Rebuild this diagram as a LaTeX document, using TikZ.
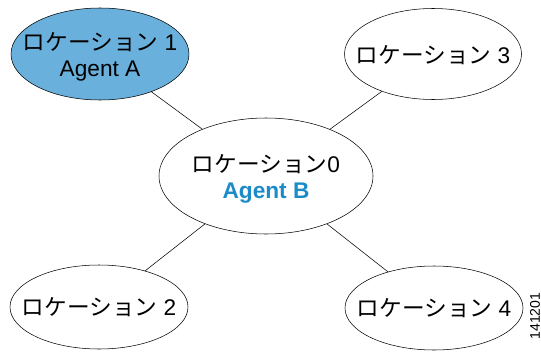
\documentclass[tikz,border=0pt]{standalone}
\usepackage{fontspec}
\usetikzlibrary{shapes.geometric}
\setmainfont{Liberation Sans}
\newfontfamily\jpfont{Noto Sans CJK JP}
\definecolor{agentfill}{HTML}{6AB0DC}
\definecolor{agentblue}{HTML}{1C8BC9}
\begin{document}
\begin{tikzpicture}[x=0.75pt, y=-0.75pt, every node/.style={font=\fontsize{17}{19}\selectfont},
    site/.style={ellipse, draw, thin, inner sep=0pt},
    sitetext/.style={align=center, yshift=-2.25pt}]
    \useasboundingbox (0,0) rectangle (541,353);
    % --- Center location ---
    \node[site, minimum width=160.5pt, minimum height=87pt,
        label={[sitetext]center:{\jpfont ロケーション}0\\[1pt]\textcolor{agentblue}{\textbf{Agent B}}}] (loc0) at (266,176) {};
    % --- Outer locations ---
    \node[site, fill=agentfill, minimum width=133.5pt, minimum height=69pt,
        label={[sitetext]center:{\jpfont ロケーション} 1\\[1pt]Agent A}] (loc1) at (100,54) {};
    \node[site, minimum width=132.75pt, minimum height=68.25pt,
        label={[sitetext, yshift=1.5pt]center:{\jpfont ロケーション} 3}] (loc3) at (433,54) {};
    \node[site, minimum width=133.5pt, minimum height=63pt,
        label={[sitetext, yshift=2.25pt]center:{\jpfont ロケーション} 2}] (loc2) at (99,307) {};
    \node[site, minimum width=133.5pt, minimum height=63pt,
        label={[sitetext, yshift=2.25pt]center:{\jpfont ロケーション} 4}] (loc4) at (434,308) {};
    % Links to the center
    \foreach \n in {loc1, loc2, loc3, loc4}
        \draw[thin] (\n) -- (loc0);
    % Figure number
    \node[rotate=90, font=\fontsize{10.5}{12}\selectfont] (tag) at (535,316) {141201};
\end{tikzpicture}
\end{document}
